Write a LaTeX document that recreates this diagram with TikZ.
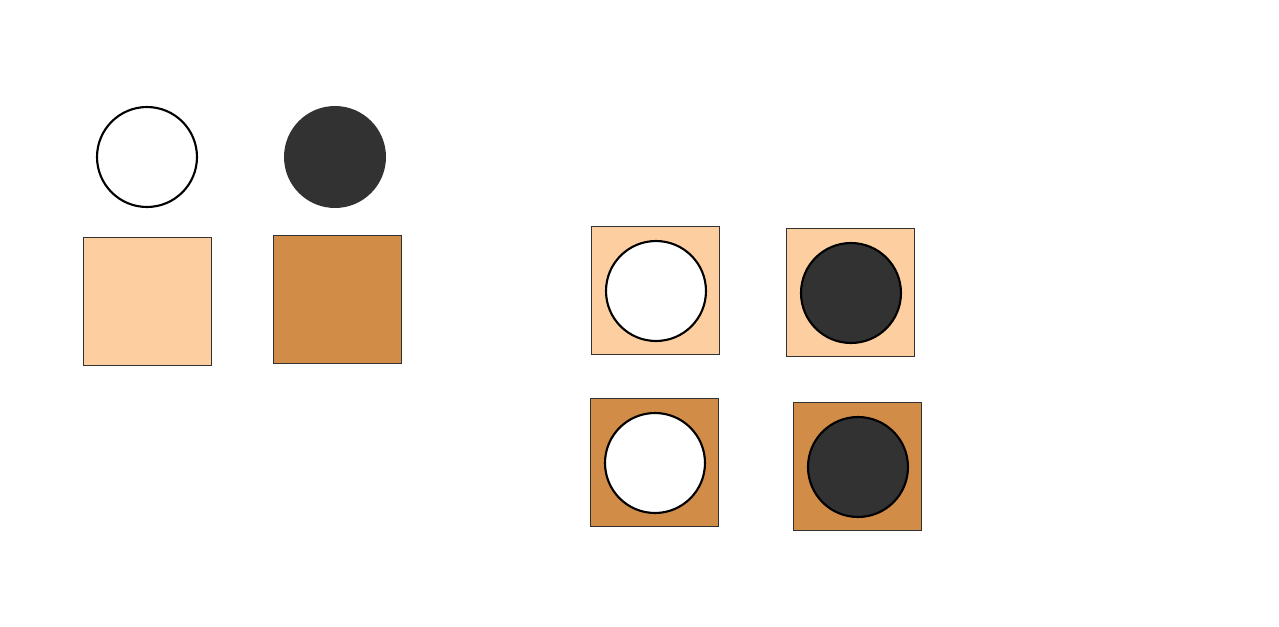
\documentclass[tikz,border=0pt]{standalone}
\definecolor{tilelight}{HTML}{FDCFA0}
\definecolor{tiledark}{HTML}{D18C47}
\definecolor{stoneink}{HTML}{323232}
\tikzset{
  tile/.style={rectangle, draw=stoneink, line width=0.5pt,
    minimum size=2.56cm, inner sep=0pt, outer sep=0pt},
  tile light/.style={tile, fill=tilelight},
  tile dark/.style={tile, fill=tiledark},
  stone/.style={circle, minimum size=2cm, inner sep=0pt, outer sep=0pt},
  stone white/.style={stone, fill=white, draw=black, line width=1.2pt},
  stone black/.style={stone, fill=stoneink, draw=black, line width=1.2pt},
}

\begin{document}
\begin{tikzpicture}[x=0.02cm, y=-0.02cm]
  \useasboundingbox[fill=white] (0,0) rectangle (1279,626);

  % pieces on their own
  \node[stone white] (sw) at (147,157) {};
  \node[stone, fill=stoneink, minimum size=2.04cm] (sb) at (335,157) {};
  \node[tile light] (tl) at (147,301) {};
  \node[tile dark] (td) at (337,299) {};

  % pieces placed on tiles
  \node[tile light] (tl1) at (655,290) {};
  \node[stone white] (sw1) at (656,291) {};
  \node[tile light] (tl2) at (850,292) {};
  \node[stone black] (sb2) at (851,293) {};
  \node[tile dark] (td3) at (654,462) {};
  \node[stone white] (sw3) at (655,463) {};
  \node[tile dark] (td4) at (857,466) {};
  \node[stone black] (sb4) at (858,467) {};
\end{tikzpicture}
\end{document}
